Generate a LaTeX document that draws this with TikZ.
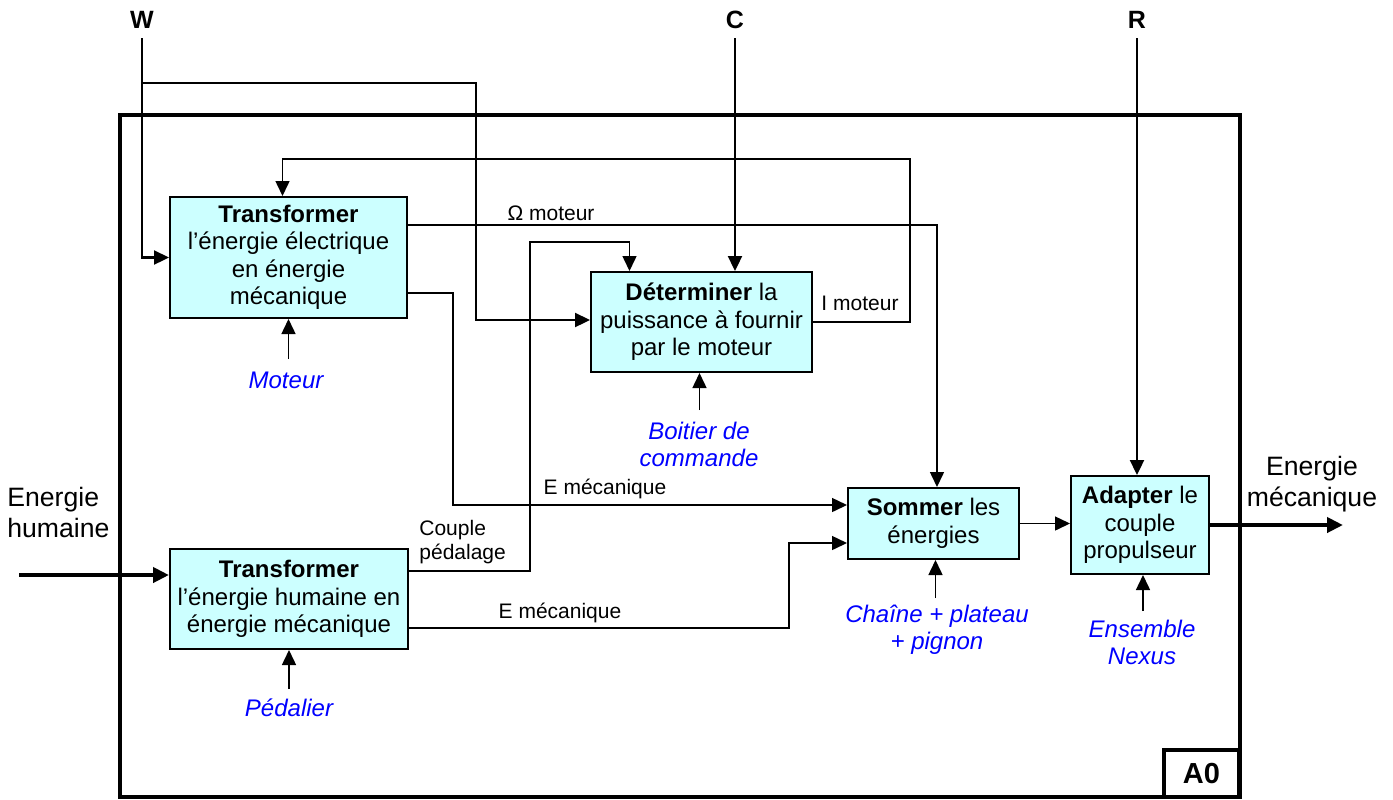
\documentclass[tikz,border=0pt]{standalone}
\usepackage{fontspec}
\setmainfont{Liberation Sans}
\usetikzlibrary{arrows.meta,calc}
\definecolor{boxfill}{RGB}{204,255,255}
\definecolor{mechblue}{RGB}{0,0,255}
\begin{document}
\begin{tikzpicture}[x=0.5pt,y=-0.5pt,
  tip/.style={-{Triangle[length=7.5pt,width=7pt]}},
  flow/.style={line width=0.75pt,tip},
  ctrl/.style={line width=1.15pt,tip},
  big/.style={line width=2pt,-{Triangle[length=8pt,width=7.5pt]}},
  actbox/.style={draw,line width=1pt,fill=boxfill,align=center,inner sep=0pt,
    font=\fontsize{12}{13.75}\selectfont},
  mech/.style={text=mechblue,align=center,inner sep=0pt,
    font=\fontsize{12}{13.5}\selectfont\itshape},
  lbl/.style={inner sep=0pt,font=\fontsize{10.5}{12}\selectfont},
  ext/.style={inner sep=0pt,font=\fontsize{13.3}{15.5}\selectfont},
  ctl/.style={inner sep=0pt,font=\fontsize{12.5}{14}\selectfont\bfseries}]
\useasboundingbox (0,0) rectangle (1393,799);

% outer frame and A0 tag
\draw[line width=1.75pt] (120,115) rectangle (1240,797);
\node[draw,line width=1.75pt,minimum width=37.5pt,minimum height=23.5pt,inner sep=0pt,
  font=\fontsize{14.5}{16}\selectfont\bfseries] (a0) at (1201.5,773.5) {A0};

% activity boxes
\node[actbox,minimum width=118.5pt,minimum height=60.5pt] (box1) at (288.5,257.5)
  {\textbf{Transformer}\\l’énergie électrique\\en énergie\\mécanique};
\node[actbox,minimum width=110.5pt,minimum height=50pt] (det) at (701.5,322)
  {\textbf{Déterminer} la\\puissance à fournir\\par le moteur};
\node[actbox,minimum width=119pt,minimum height=50pt] (box3) at (289,599)
  {\textbf{Transformer}\\l’énergie humaine en\\énergie mécanique};
\node[actbox,minimum width=85.5pt,minimum height=35.5pt] (som) at (933.5,523.5)
  {\textbf{Sommer} les\\énergies};
\node[actbox,minimum width=69pt,minimum height=49pt] (adp) at (1140,525)
  {\textbf{Adapter} le\\couple\\propulseur};

% controls
\node[ctl] (W) at (142,20) {W};
\node[ctl] (C) at (735,20) {C};
\node[ctl] (R) at (1137,20) {R};
\coordinate (Wt) at (142,38);
\coordinate (Wb) at (142,83);
\coordinate (Ct) at (735,38);
\coordinate (Rt) at (1137,38);
\draw[ctrl] (Wt) |- (box1.west);
\draw[ctrl] (Wb) -| ([xshift=-57pt,yshift=1pt]det.west) -- ([yshift=1pt]det.west);
\draw[ctrl] (Ct) -- (Ct |- det.north);
\draw[ctrl] (Rt) -- (Rt |- adp.north);

% flows
\draw[flow] (det.east) -| (910,159) -| ([xshift=-3pt]box1.north);
\node[lbl] (im) at (860,303) {I moteur};
\draw[flow] ([yshift=-14.5pt]box1.north east) -| ([xshift=1.75pt]som.north);
\node[lbl] (om) at (551,213) {Ω moteur};
\draw[flow] ([yshift=13pt]box1.south east) -- ++(45,0) |- ([yshift=9.25pt]som.west);
\node[lbl] (em1) at (605,489) {E mécanique};
\draw[flow] ([yshift=-11.5pt]box3.north east) -- ++(121,0)
  |- ([xshift=-36pt,yshift=14.5pt]det.north) -- ([xshift=-36pt]det.north);
\node[lbl,anchor=west,align=left] (cp) at (419,542) {Couple\\pédalage};
\draw[flow] ([yshift=11pt]box3.south east) -- ++(380,0) |- ([yshift=-9.75pt]som.west);
\node[lbl] (em2) at (560,613) {E mécanique};
\draw[flow] (som.east) -- (som.east -| adp.west);

% external input / output
\coordinate (Ei) at (19,575);
\coordinate (Eo) at (1343,525);
\draw[big] (Ei) -- (Ei -| box3.west);
\draw[big] (adp.east) -- (Eo);
\node[ext,anchor=west,align=left] (eh) at (7,512) {Energie\\humaine};
\node[ext,align=center] (emo) at (1312,484) {Energie\\mécanique};

% mechanisms
\draw[flow] ($(box1.south)+(0,40)$) -- (box1.south);
\node[mech] (mot) at (286,380) {Moteur};
\draw[flow] ($([xshift=-1pt]det.south)+(0,37)$) -- ([xshift=-1pt]det.south);
\node[mech] (boit) at (699,444) {Boitier de\\commande};
\draw[flow] ($(box3.south)+(0,39)$) -- (box3.south);
\node[mech] (ped) at (289,708) {Pédalier};
\draw[flow] ($([xshift=1pt]som.south)+(0,38)$) -- ([xshift=1pt]som.south);
\node[mech] (ch) at (937,630) {Chaîne + plateau\\+ pignon};
\draw[flow] ($([xshift=1.5pt]adp.south)+(0,36)$) -- ([xshift=1.5pt]adp.south);
\node[mech] (nx) at (1142,642) {Ensemble\\Nexus};
\end{tikzpicture}
\end{document}
